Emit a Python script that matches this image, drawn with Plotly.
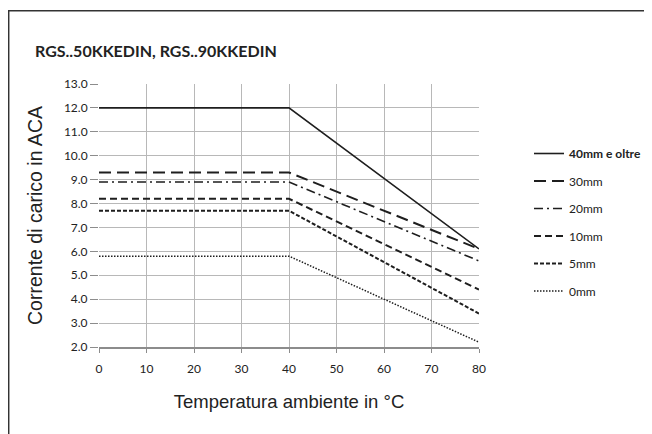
import plotly.graph_objects as go

temps = [0, 40, 80]
labels = ["40mm e oltre", "30mm", "20mm", "10mm", "5mm", "0mm"]
s40 = [12.0, 12.0, 6.1]
s30 = [9.3, 9.3, 6.1]
s20 = [8.9, 8.9, 5.6]
s10 = [8.2, 8.2, 4.4]
s5 = [7.7, 7.7, 3.4]
s0 = [5.8, 5.8, 2.2]
series = [s40, s30, s20, s10, s5, s0]

styles = [
    dict(dash="solid", width=1.6),
    dict(dash="12px,6px", width=2),
    dict(dash="9px,4px,2px,4px", width=1.6),
    dict(dash="7px,4px", width=2),
    dict(dash="4px,2px", width=2),
    dict(dash="1.5px,1.5px", width=1.5),
]

fig = go.Figure()
for i, (lab, ys, st) in enumerate(zip(labels, series, styles)):
    name = "<b>" + lab + "</b>" if i == 0 else lab
    fig.add_trace(go.Scatter(
        x=temps, y=ys, mode="lines", name=name, legendgroup=str(i),
        line=dict(color="#1e1e1e", width=st["width"], dash=st["dash"]),
    ))

# the page body has an 8px margin, so the figure is 8px smaller and
# all target screen positions are offset by 8px
OFF = 8
W, H = 652 - OFF, 434 - OFF
L = 99 - OFF
T = 84 - OFF
R = W - (479 - OFF)
B = H - (347 - OFF)
pw = W - L - R
ph = H - T - B

def px(xp):
    return (xp - OFF - L) / pw

def py(yp):
    return (H - B - (yp - OFF)) / ph

fig.update_layout(
    width=W, height=H,
    margin=dict(l=L, r=R, t=T, b=B, pad=0, autoexpand=False),
    paper_bgcolor="white", plot_bgcolor="white",
    font=dict(family="Lato, sans-serif", color="#222222", size=12),
    showlegend=True,
    legend=dict(
        x=px(529), y=py(139), xanchor="left", yanchor="top",
        font=dict(family="Lato, sans-serif", size=12, color="#222222"),
        tracegroupgap=8.5, itemwidth=30, bgcolor="rgba(0,0,0,0)",
    ),
    xaxis=dict(
        range=[0, 80], tickvals=[0, 10, 20, 30, 40, 50, 60, 70, 80],
        showgrid=True, gridcolor="#b8b8b8", gridwidth=1,
        showline=True, linecolor="#8c8c8c", linewidth=2,
        ticks="outside", ticklen=4, tickcolor="#8c8c8c",
        ticklabelstandoff=6, zeroline=False, automargin=False,
        title=dict(text="Temperatura ambiente in °C",
                   font=dict(family="Liberation Sans, Arial, sans-serif", size=18.5, color="#222222"),
                   standoff=20),
    ),
    yaxis=dict(
        range=[2, 13], dtick=1, tickformat=".1f",
        showgrid=True, gridcolor="#b8b8b8", gridwidth=1,
        showline=False, zeroline=False, automargin=False,
        ticks="outside", ticklen=8, tickcolor="#8c8c8c", ticklabelstandoff=0,
        title=dict(text="Corrente di carico in ACA",
                   font=dict(family="Liberation Sans, Arial, sans-serif", size=19.5, color="#222222"),
                   standoff=16),
    ),
    annotations=[dict(
        text="<b>RGS..50KKEDIN, RGS..90KKEDIN</b>", xref="paper", yref="paper",
        x=px(33), y=py(50), xanchor="left", yanchor="middle", showarrow=False,
        font=dict(family="Lato, sans-serif", size=16, color="#222222"),
    )],
    shapes=[
        dict(type="line", xref="paper", yref="paper", x0=px(8.7), x1=px(8.7), y0=py(10), y1=py(434),
             line=dict(color="#333333", width=1.5)),
        dict(type="line", xref="paper", yref="paper", x0=px(8), x1=px(652), y0=py(10.7), y1=py(10.7),
             line=dict(color="#333333", width=1.5)),
    ],
)

fig.write_html("out.html", config={"displayModeBar": False})
